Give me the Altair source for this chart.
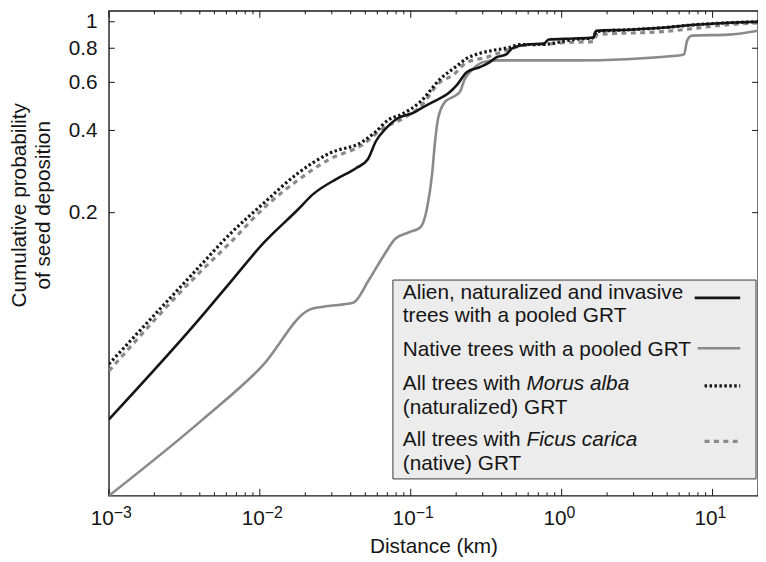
import altair as alt
import pandas as pd

# ---------------- data ----------------
# Alien, naturalized and invasive trees with a pooled GRT
alien_km = [0.001, 0.00389, 0.00639, 0.01067, 0.01755, 0.02267, 0.03209, 0.04337, 0.05196,
            0.05865, 0.06819, 0.07929, 0.1072, 0.1156, 0.1406, 0.1816, 0.2019, 0.2348, 0.2856,
            0.3322, 0.3691, 0.4291, 0.4698, 0.5891, 0.7612, 0.8209, 1.196, 1.618, 1.693, 2.827,
            4.648, 7.646, 12.77, 20.0]
alien_p = [0.0350, 0.0805, 0.1114, 0.1556, 0.2032, 0.2343, 0.2654, 0.2909, 0.3136,
           0.3644, 0.4062, 0.4378, 0.4680, 0.4799, 0.5088, 0.5531, 0.5864, 0.6534, 0.6813,
           0.7102, 0.7406, 0.7594, 0.7984, 0.8254, 0.8325, 0.8607, 0.8679, 0.8751, 0.9277, 0.9355,
           0.9512, 0.9753, 0.9917, 1.0]

# Native trees with a pooled GRT
native_km = [0.001, 0.00419, 0.01035, 0.02135, 0.02637, 0.04145, 0.05275,
             0.06516, 0.07929, 0.09645, 0.1156, 0.1284, 0.1385, 0.1449, 0.1516, 0.1685, 0.1901,
             0.2113, 0.2279, 0.2570, 0.2988, 0.3691, 1.196, 6.007, 6.478, 6.776, 7.309, 12.77, 20.0]
native_p = [0.01838, 0.0350, 0.0548, 0.0883, 0.0905, 0.0935, 0.1133,
            0.1373, 0.1609, 0.1692, 0.1764, 0.2084, 0.2767, 0.3644, 0.4415, 0.5088, 0.5305,
            0.5531, 0.6165, 0.6700, 0.7102, 0.7222, 0.7222, 0.7531, 0.7594, 0.8535, 0.8898, 0.8973, 0.9277]

# All trees with Morus alba (naturalized) GRT
morus_km = [0.001, 0.00389, 0.00639, 0.01067, 0.01755, 0.02887, 0.04819, 0.05865, 0.07135,
            0.08549, 0.1156, 0.1563, 0.2049, 0.2348, 0.2856, 0.3475, 0.4490, 0.5222, 0.7273,
            1.196, 1.618, 1.693, 2.827, 4.648, 7.646, 12.77, 20.0]
morus_p = [0.0558, 0.1252, 0.1677, 0.2173, 0.2767, 0.3297, 0.3644, 0.3961, 0.4378,
           0.4564, 0.5088, 0.6165, 0.6927, 0.7344, 0.7658, 0.7852, 0.8051, 0.8254, 0.8254,
           0.8607, 0.8751, 0.9200, 0.9355, 0.9512, 0.9753, 0.9917, 1.0]

# All trees with Ficus carica (native) GRT
ficus_km = [0.001, 0.00389, 0.00639, 0.01067, 0.01755, 0.02887, 0.04819, 0.06516, 0.08810,
            0.1156, 0.1563, 0.1901, 0.2348, 0.3174, 0.4291, 0.5629, 0.7273, 1.077, 1.618,
            1.718, 4.648, 12.77, 20.0]
ficus_p = [0.0526, 0.1191, 0.1556, 0.2084, 0.2610, 0.3136, 0.3554, 0.4062, 0.4415,
           0.4880, 0.6012, 0.6373, 0.7102, 0.7406, 0.7852, 0.8187, 0.8254, 0.8392, 0.8464,
           0.8973, 0.9200, 0.9753, 0.9917]

# axes
x_major_ticks = [0.001, 0.01, 0.1, 1, 10]
x_label_exponents = ["\u22123", "\u22122", "\u22121", "0", "1"]
x_minor_ticks = [0.002, 0.003, 0.004, 0.005, 0.006, 0.007, 0.008, 0.009,
                 0.02, 0.03, 0.04, 0.05, 0.06, 0.07, 0.08, 0.09,
                 0.2, 0.3, 0.4, 0.5, 0.6, 0.7, 0.8, 0.9,
                 2, 3, 4, 5, 6, 7, 8, 9]
y_ticks = [0.2, 0.4, 0.6, 0.8, 1]
x_domain = [0.001, 20]
y_domain = [0.01838, 1.096]
x_title = "Distance (km)"
y_title = ["Cumulative probability", "of seed deposition"]

# legend text
legend_alien = ["Alien, naturalized and invasive", "trees with a pooled GRT"]
legend_native = "Native trees with a pooled GRT"
legend_morus = ["All trees with ", "Morus alba", "(naturalized) GRT"]
legend_ficus = ["All trees with ", "Ficus carica", "(native) GRT"]

# ---------------- styling ----------------
FONT = "Liberation Sans"
INK = "#151515"
GRAY = "#8a8a8a"
W, H = 656, 490
FS = 21

xs = alt.Scale(type="log", domain=x_domain, nice=False)
ys = alt.Scale(type="log", domain=y_domain, nice=False)


def sdf(km, p):
    return pd.DataFrame({"km": km, "p": p})


def line_layer(km, p, color, width, dash=None, main=False):
    kw = dict(color=color, strokeWidth=width, interpolate="monotone", clip=True)
    if dash:
        kw["strokeDash"] = dash
    if main:
        xa = alt.Axis(orient="bottom", labels=False, ticks=False, domain=False, grid=False,
                      title=x_title, titleFont=FONT, titleFontSize=FS, titleFontWeight="normal",
                      titleColor=INK, titleBaseline="alphabetic", titleY=57)
        ya = alt.Axis(orient="left", values=y_ticks, format="~g", ticks=False, domain=False,
                      grid=False, labelFont=FONT, labelFontSize=FS, labelColor=INK,
                      labelPadding=12, labelBaseline="middle", labelOverlap=False,
                      title=y_title, titleFont=FONT, titleFontSize=FS, titleFontWeight="normal",
                      titleColor=INK, titleX=-101, titleY=196, titleBaseline="top",
                      titleAlign="center", titleAngle=270, titleLineHeight=24)
        enc_x = alt.X("km:Q", scale=xs, axis=xa)
        enc_y = alt.Y("p:Q", scale=ys, axis=ya)
    else:
        enc_x = alt.X("km:Q", scale=xs, axis=None)
        enc_y = alt.Y("p:Q", scale=ys, axis=None)
    return alt.Chart(sdf(km, p)).mark_line(**kw).encode(x=enc_x, y=enc_y)


# inward tick marks on all four sides, placed through the scales
def xticks(values, length):
    d = pd.DataFrame({"km": values})
    enc = alt.X("km:Q", scale=xs, axis=None)
    bottom = alt.Chart(d).mark_rule(color=INK, strokeWidth=1).encode(
        x=enc, y=alt.value(H), y2=alt.value(H - length))
    top = alt.Chart(d).mark_rule(color=INK, strokeWidth=1).encode(
        x=enc, y=alt.value(0), y2=alt.value(length))
    return [bottom, top]


def yticks(values, length):
    d = pd.DataFrame({"p": values})
    enc = alt.Y("p:Q", scale=ys, axis=None)
    left = alt.Chart(d).mark_rule(color=INK, strokeWidth=1).encode(
        y=enc, x=alt.value(0), x2=alt.value(length))
    right = alt.Chart(d).mark_rule(color=INK, strokeWidth=1).encode(
        y=enc, x=alt.value(W - length), x2=alt.value(W))
    return [left, right]


ticks = xticks(x_minor_ticks, 3.5) + xticks(x_major_ticks, 7) + yticks(y_ticks, 6)

lines = [
    line_layer(native_km, native_p, GRAY, 2.6, main=True),
    line_layer(ficus_km, ficus_p, GRAY, 3.2, dash=[5, 4.5]),
    line_layer(alien_km, alien_p, INK, 2.6),
    line_layer(morus_km, morus_p, INK, 3.2, dash=[2.5, 2.5]),
]

# x tick labels "10" with superscript exponents, placed through the x scale
xlab = pd.DataFrame({"km": x_major_ticks, "exp": x_label_exponents})
base10 = alt.Chart(xlab).mark_text(text="10", align="right", baseline="alphabetic", dx=5,
                                   font=FONT, fontSize=FS, color=INK).encode(
    x=alt.X("km:Q", scale=xs, axis=None), y=alt.value(520))
expo = alt.Chart(xlab).mark_text(align="left", baseline="alphabetic", dx=5,
                                 font=FONT, fontSize=16, color=INK).encode(
    x=alt.X("km:Q", scale=xs, axis=None), y=alt.value(513), text="exp:N")

# legend box
one = pd.DataFrame({"k": [0]})
box = alt.Chart(one).mark_rect(fill="#ececec", stroke="#3a3a3a", strokeWidth=1).encode(
    x=alt.value(287), x2=alt.value(654), y=alt.value(272), y2=alt.value(473))


def txt(s, x, y, italic=False):
    kw = dict(text=s, align="left", baseline="alphabetic", font=FONT, fontSize=FS, color=INK)
    if italic:
        kw["fontStyle"] = "italic"
    return alt.Chart(one).mark_text(**kw).encode(x=alt.value(x), y=alt.value(y))


def sym(color, width, y, x1, x2, dash=None):
    kw = dict(color=color, strokeWidth=width)
    if dash:
        kw["strokeDash"] = dash
    return alt.Chart(one).mark_rule(**kw).encode(x=alt.value(x1), x2=alt.value(x2), y=alt.value(y))


TX = 297
IT = TX + 125
legend = [
    box,
    txt(legend_alien[0], TX, 291), txt(legend_alien[1], TX, 314),
    txt(legend_native, TX, 349),
    txt(legend_morus[0], TX, 383), txt(legend_morus[1], IT, 383, italic=True),
    txt(legend_morus[2], TX, 407),
    txt(legend_ficus[0], TX, 440), txt(legend_ficus[1], IT, 440, italic=True),
    txt(legend_ficus[2], TX, 464),
    sym(INK, 2.6, 290, 592, 638),
    sym(GRAY, 2.6, 341, 595, 638),
    sym(INK, 3.2, 379, 602, 638, dash=[2.5, 2.5]),
    sym(GRAY, 3.2, 435, 602, 638, dash=[5, 4.5]),
]

chart = alt.layer(*ticks, *lines, *legend, base10, expo).resolve_axis(
    x="independent", y="independent"
).properties(
    width=W, height=H,
    padding={"left": 102, "top": 0, "right": 0, "bottom": 62},
    autosize=alt.AutoSizeParams(type="none"),
).configure_view(
    stroke="#1a1a1a", strokeWidth=1.4
).configure_axis(grid=False)

chart.save("out.html", embed_options={"renderer": "svg", "actions": False})
